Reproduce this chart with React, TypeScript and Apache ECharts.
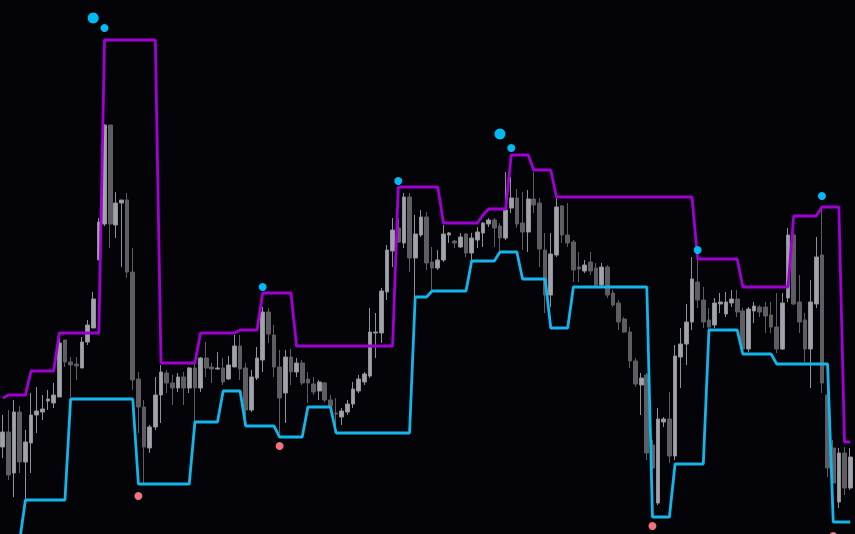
import React, { useEffect, useRef } from "react";
import * as echarts from "echarts";

// Price units (arbitrary points), one entry per bar
const opens = [
  87, 102, 61, 122, 72, 91, 119, 122, 133, 131,
  137, 194, 172, 170, 166, 192, 206, 274, 310, 409,
  309, 331, 334, 262, 155, 127, 86, 107, 139, 161,
  151, 146, 157, 146, 166, 146, 176, 167, 165, 166,
  155, 167, 188, 166, 124, 156, 174, 222, 199, 167,
  141, 177, 162, 171, 155, 150, 143, 151, 134, 121,
  117, 122, 130, 143, 152, 158, 201, 201, 242, 283,
  306, 291, 337, 276, 299, 317, 272, 266, 274, 299,
  293, 287, 300, 281, 294, 301, 310, 314, 308, 296,
  326, 336, 311, 302, 335, 331, 284, 239, 279, 328,
  299, 292, 267, 263, 272, 266, 249, 267, 241, 231,
  215, 202, 173, 149, 159, 89, 31, 112, 115, 78,
  177, 190, 212, 252, 234, 214, 209, 230, 220, 231,
  235, 223, 185, 223, 227, 227, 219, 207, 185, 236,
  299, 232, 214, 185, 230, 279, 139, 86, 32, 81,
  46,
];
const closes = [
  102, 59, 122, 72, 92, 119, 123, 125, 135, 139,
  191, 172, 169, 168, 192, 209, 235, 312, 409, 310,
  331, 334, 262, 154, 127, 87, 107, 139, 162, 151,
  146, 157, 146, 166, 146, 176, 166, 165, 166, 152,
  169, 188, 165, 124, 157, 176, 222, 200, 167, 136,
  177, 162, 171, 151, 151, 142, 152, 134, 128, 120,
  123, 130, 145, 155, 160, 202, 202, 243, 284, 304,
  292, 337, 276, 300, 317, 271, 266, 274, 300, 301,
  291, 297, 281, 296, 302, 311, 314, 306, 296, 324,
  336, 310, 302, 335, 329, 285, 239, 280, 327, 299,
  291, 264, 265, 269, 263, 249, 267, 239, 229, 212,
  202, 173, 150, 156, 81, 66, 115, 115, 78, 178,
  190, 212, 255, 234, 212, 207, 231, 232, 232, 235,
  222, 185, 225, 228, 222, 218, 207, 185, 231, 299,
  230, 212, 185, 232, 277, 151, 66, 51, 81, 46,
  77,
];
const lows = [
  76, 54, 37, 61, 34, 61, 101, 114, 124, 126,
  137, 167, 137, 154, 166, 189, 206, 274, 308, 286,
  296, 267, 256, 144, 101, 51, 81, 104, 111, 141,
  129, 142, 129, 141, 112, 142, 157, 151, 164, 149,
  154, 167, 154, 117, 122, 154, 162, 191, 157, 101,
  111, 149, 157, 149, 131, 139, 134, 132, 121, 107,
  109, 119, 126, 141, 149, 156, 176, 191, 234, 267,
  291, 286, 262, 237, 297, 264, 244, 264, 272, 291,
  286, 286, 277, 274, 286, 287, 307, 287, 282, 294,
  321, 306, 284, 282, 321, 267, 221, 227, 277, 291,
  287, 252, 252, 261, 259, 247, 247, 236, 227, 204,
  201, 166, 147, 119, 74, 64, 29, 107, 71, 74,
  146, 169, 204, 226, 206, 204, 206, 221, 217, 227,
  217, 182, 182, 211, 217, 201, 201, 181, 184, 232,
  229, 201, 172, 146, 226, 141, 57, 44, 26, 39,
  44,
];
const highs = [
  119, 124, 134, 128, 104, 141, 147, 139, 144, 151,
  196, 194, 177, 177, 197, 214, 242, 316, 410, 409,
  342, 334, 341, 286, 162, 134, 109, 157, 169, 164,
  159, 161, 162, 167, 171, 177, 192, 171, 182, 176,
  178, 199, 199, 171, 164, 187, 227, 226, 209, 184,
  184, 185, 176, 174, 162, 157, 154, 152, 139, 136,
  126, 134, 152, 159, 162, 226, 221, 246, 289, 316,
  316, 341, 341, 319, 324, 322, 287, 284, 309, 302,
  294, 301, 301, 301, 307, 312, 316, 316, 311, 362,
  357, 345, 342, 344, 362, 336, 301, 301, 336, 329,
  331, 294, 282, 274, 282, 271, 271, 269, 244, 234,
  217, 207, 176, 161, 161, 94, 126, 117, 142, 189,
  206, 230, 277, 274, 247, 226, 236, 241, 242, 244,
  244, 226, 227, 232, 229, 232, 232, 241, 241, 306,
  301, 259, 221, 254, 297, 324, 144, 94, 86, 87,
  86,
];

const upperBand = [
  136, 139, 139, 139, 139, 163, 163, 163, 163, 163,
  201, 201, 201, 201, 201, 201, 201, 201, 494, 494,
  494, 494, 494, 494, 494, 494, 494, 494, 171, 171,
  171, 171, 171, 171, 171, 201, 201, 201, 201, 201,
  201, 201, 204, 204, 204, 204, 241, 241, 241, 241,
  241, 241, 188, 188, 188, 188, 188, 188, 188, 188,
  188, 188, 188, 188, 188, 188, 188, 188, 188, 188,
  347, 347, 347, 347, 347, 347, 347, 347, 311, 311,
  311, 311, 311, 311, 311, 319, 325, 325, 325, 325,
  379, 379, 379, 379, 364, 364, 364, 364, 337, 337,
  337, 337, 337, 337, 337, 337, 337, 337, 337, 337,
  337, 337, 337, 337, 337, 337, 337, 337, 337, 337,
  337, 337, 337, 275, 275, 275, 275, 275, 275, 275,
  275, 247, 247, 247, 247, 247, 247, 247, 247, 247,
  318, 318, 318, 318, 318, 327, 327, 327, 327, 92,
  92,
];
const lowerBand = [
  -36, -31, -21, -6, 34, 34, 34, 34, 34, 34,
  34, 34, 135, 135, 135, 135, 135, 135, 135, 135,
  135, 135, 135, 135, 50, 50, 50, 50, 50, 50,
  50, 50, 50, 50, 112, 112, 112, 112, 112, 143,
  143, 143, 143, 108, 108, 108, 108, 108, 108, 97,
  97, 97, 97, 97, 127, 127, 127, 127, 127, 101,
  101, 101, 101, 101, 101, 101, 101, 101, 101, 101,
  101, 101, 101, 237, 237, 237, 243, 243, 243, 243,
  243, 243, 243, 273, 273, 273, 273, 273, 282, 282,
  282, 282, 255, 255, 255, 255, 255, 206, 206, 206,
  206, 247, 247, 247, 247, 247, 247, 247, 247, 247,
  247, 247, 247, 247, 247, 17, 17, 17, 17, 70,
  70, 70, 70, 70, 70, 204, 204, 204, 204, 204,
  204, 180, 180, 180, 180, 180, 180, 170, 170, 170,
  170, 170, 170, 170, 170, 170, 170, 12, 12, 12,
  12,
];

// Signal markers: bar index and price level
const strongUpIdx = [16, 88];
const strongUpVal = [516, 400];
const upIdx = [18, 46, 70, 90, 123, 145];
const upVal = [506, 247, 353, 386, 284, 338];
const downIdx = [24, 49, 115, 147];
const downVal = [38, 88, 8, -2];

const categories = opens.map((_, i) => String(i + 1));

export default function App() {
  const ref = useRef<HTMLDivElement>(null);

  useEffect(() => {
    if (!ref.current) return;
    const chart = echarts.init(ref.current, undefined, { renderer: "svg" });
    const candles = opens.map((o, i) => [o, closes[i], lows[i], highs[i]]);
    const pairs = (idx: number[], val: number[]) => idx.map((x, k) => [x, val[k]]);

    chart.setOption({
      animation: false,
      backgroundColor: "#040408",
      grid: { left: -1, top: 0, width: 854, height: 534 },
      xAxis: {
        type: "category",
        data: categories,
        boundaryGap: true,
        show: false,
      },
      yAxis: {
        type: "value",
        min: 0,
        max: 534,
        show: false,
        splitLine: { show: false },
      },
      series: [
        {
          type: "candlestick",
          data: candles,
          barWidth: 4.2,
          z: 2,
          itemStyle: {
            color: "#a1a3ab",
            color0: "#5d5d62",
            borderColor: "#8f9198",
            borderColor0: "#5d5d62",
            borderWidth: 1,
          },
        },
        {
          type: "line",
          data: upperBand,
          symbol: "none",
          z: 3,
          lineStyle: { color: "#a000d4", width: 2.8 },
        },
        {
          type: "line",
          data: lowerBand,
          symbol: "none",
          z: 3,
          lineStyle: { color: "#12b6ea", width: 2.8 },
        },
        {
          type: "scatter",
          data: pairs(strongUpIdx, strongUpVal),
          symbolSize: 11,
          z: 4,
          itemStyle: { color: "#00baf6", opacity: 1 },
        },
        {
          type: "scatter",
          data: pairs(upIdx, upVal),
          symbolSize: 8,
          z: 4,
          itemStyle: { color: "#00baf6", opacity: 1 },
        },
        {
          type: "scatter",
          data: pairs(downIdx, downVal),
          symbolSize: 8,
          z: 4,
          clip: false,
          itemStyle: { color: "#f2717f", opacity: 1 },
        },
      ],
    });
    return () => chart.dispose();
  }, []);

  return (
    <div
      ref={ref}
      style={{ position: "fixed", left: 0, top: 0, width: 855, height: 534, background: "#040408" }}
    />
  );
}
